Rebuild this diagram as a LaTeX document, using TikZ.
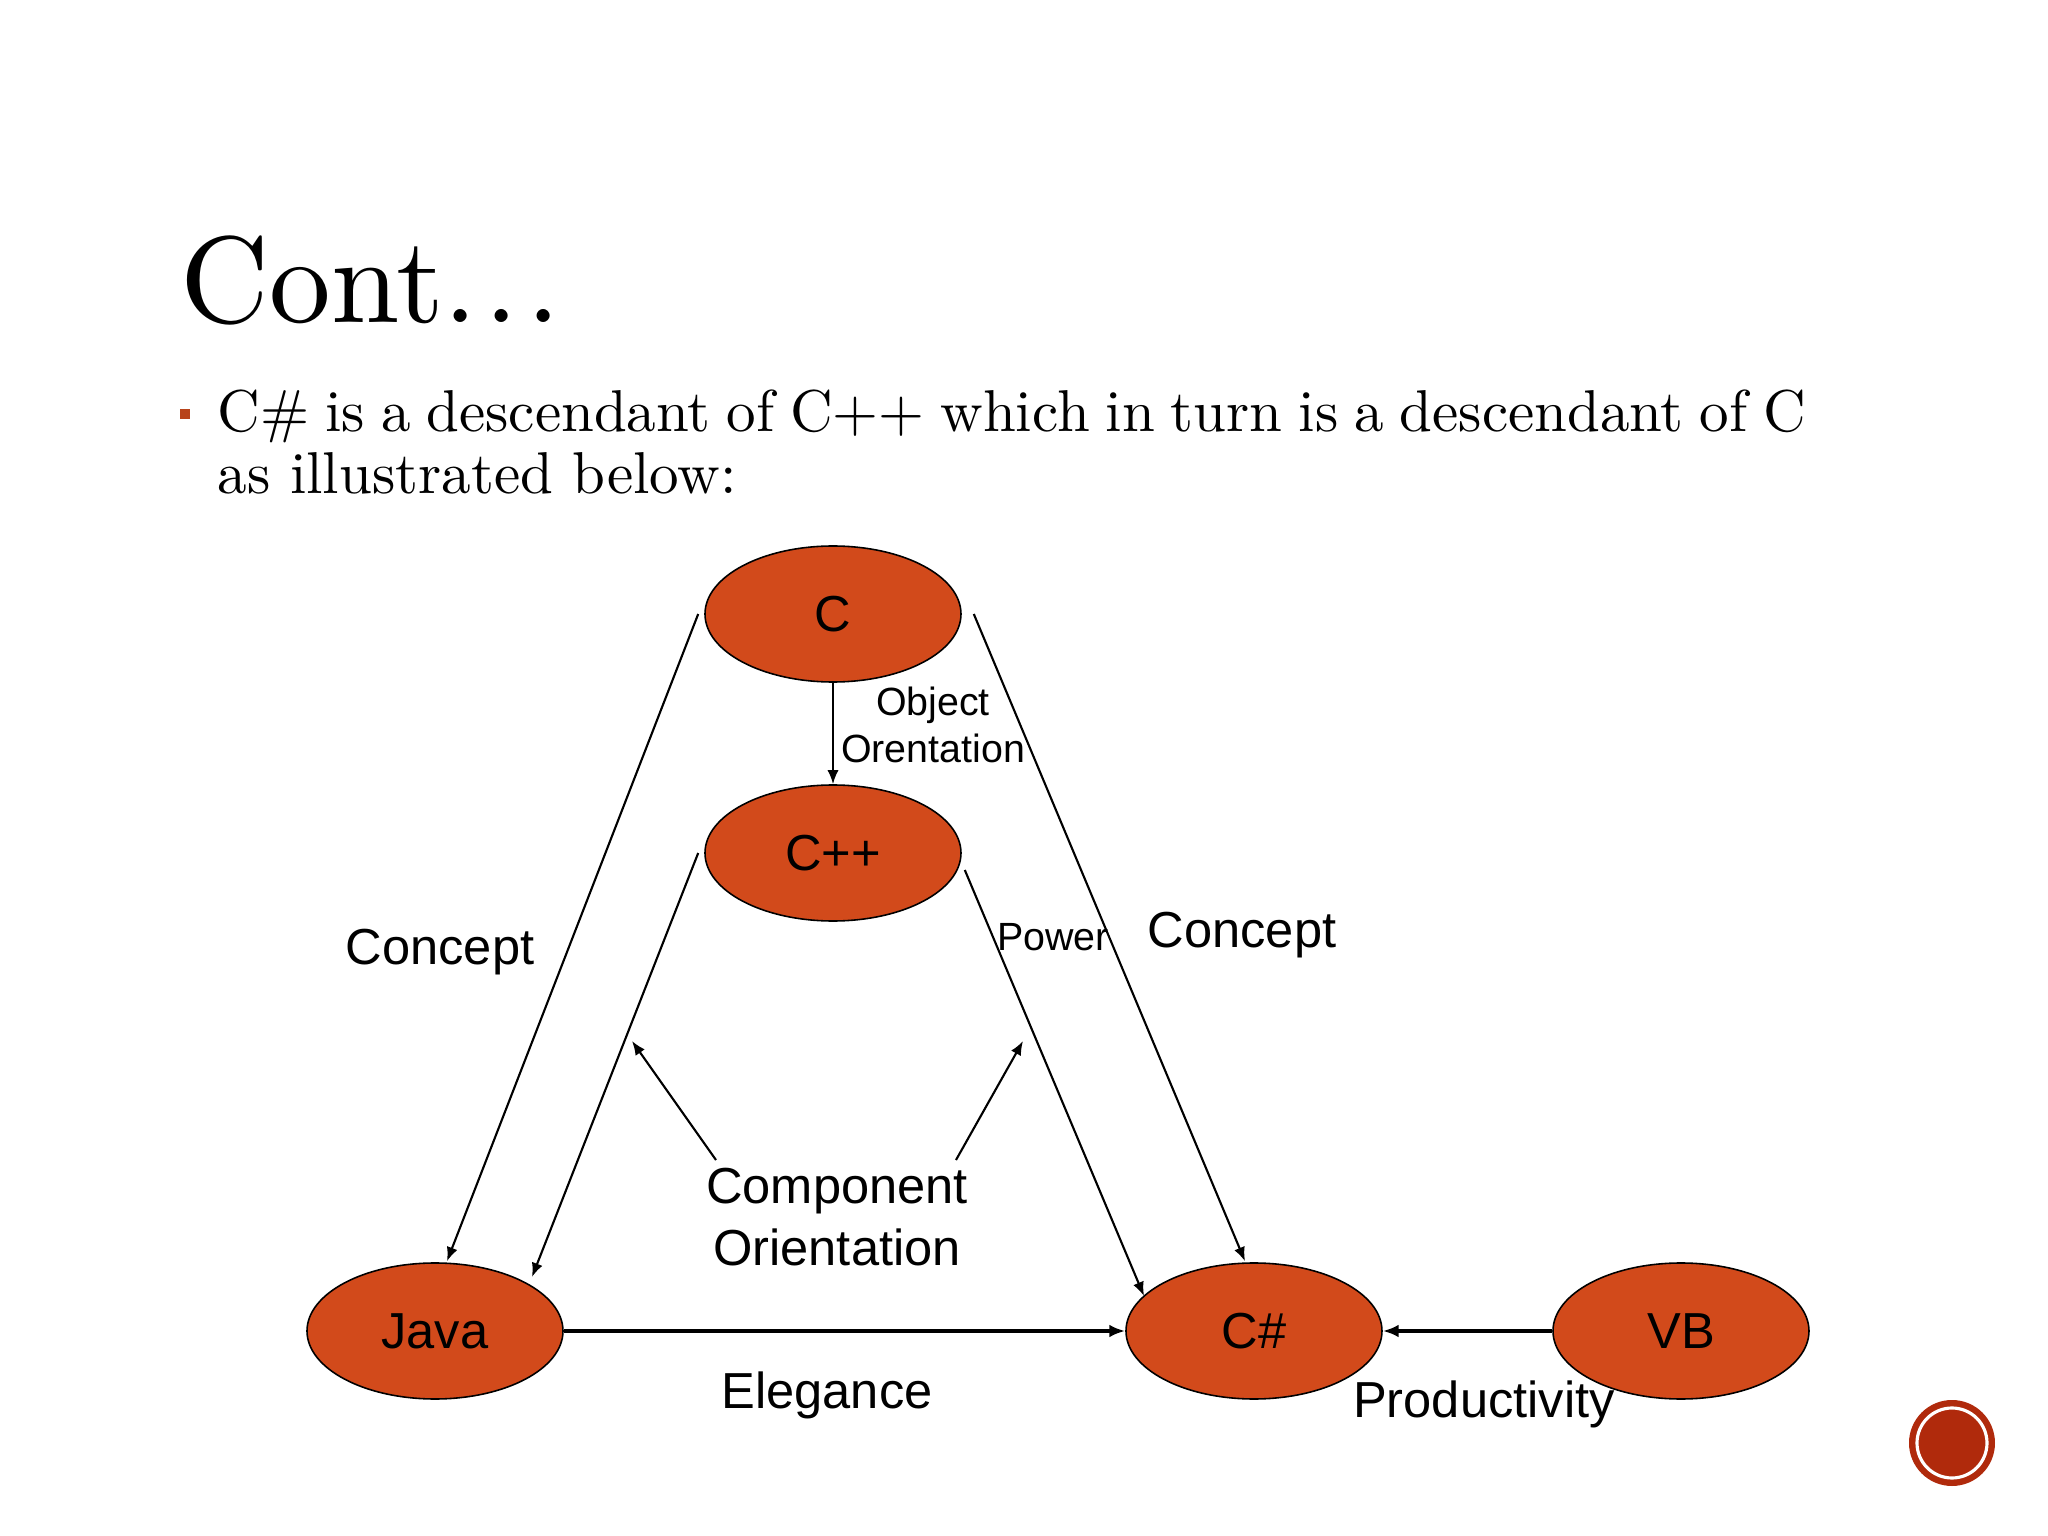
\documentclass[tikz,border=0pt]{standalone}
\usepackage{fontspec}
\newfontfamily\arial{Liberation Sans}
\newfontfamily\slidefont[Extension=.otf]{lmroman10-regular}
\usetikzlibrary{arrows.meta,calc,shapes.geometric}
\definecolor{nodefill}{HTML}{D24A1B}
\definecolor{bulletc}{HTML}{B8441B}
\definecolor{badge}{HTML}{B02A0C}
\tikzset{
  lang/.style={ellipse,draw=black,line width=0.45pt,fill=nodefill,minimum width=2.56cm,minimum height=1.36cm,inner sep=0pt,font=\arial\fontsize{14.4}{16}\selectfont},
  conn/.style={line width=0.6pt,-{Latex[length=4pt,width=3.2pt]}},
  thick conn/.style={line width=0.9pt,-{Latex[length=4.5pt,width=3.6pt]}},
  biglabel/.style={font=\arial\fontsize{14.4}{17.5}\selectfont,inner sep=0pt,align=center},
  smalllabel/.style={font=\arial\fontsize{11.2}{13.4}\selectfont,inner sep=0pt,align=center},
  bodytext/.style={anchor=base west,inner sep=0pt,font=\slidefont\fontsize{16.8}{20}\selectfont},
}
\begin{document}
\begin{tikzpicture}
\useasboundingbox[fill=white] (0,0) rectangle (20.48,-15.36);
% title and bullet
\node[anchor=base west,inner sep=0pt,font=\slidefont\fontsize{35}{42}\selectfont] (title) at (1.80,-3.23) {Cont.\kern0.07cm.\kern0.07cm.};
\fill[bulletc] (1.80,-4.09) rectangle (1.90,-4.19);
\node[bodytext] (line1) at (2.17,-4.32) {\spaceskip=0.27em C\# is a descendant of C++ which in turn is a descendant of C};
\node[bodytext] (line2) at (2.17,-4.94) {as illustrated below:};
% nodes
\node[lang] (C) at (8.33,-6.14) {C};
\node[lang] (Cpp) at (8.33,-8.53) {C++};
\node[lang] (Java) at (4.35,-13.31) {Java};
\node[lang] (Cs) at (12.54,-13.31) {C\#};
\node[lang] (VB) at (16.81,-13.31) {VB};
% connector ends
\coordinate (cL) at ($(C.west)+(-0.06,0)$);
\coordinate (cR) at ($(C.east)+(0.12,0)$);
\coordinate (cppL) at ($(Cpp.west)+(-0.06,0)$);
\coordinate (cppR) at ($(Cpp.east)+(0.03,-0.17)$);
\coordinate (javaT1) at ($(Java.north)+(0.12,0.01)$);
\coordinate (javaT2) at (5.32,-12.77);
\coordinate (csT1) at ($(Cs.north)+(-0.09,0.01)$);
\coordinate (csT2) at (11.44,-12.96);
\coordinate (coA) at (6.32,-10.41);
\coordinate (coB) at (10.23,-10.41);
% connectors
\draw[conn] (C.south) -- (Cpp.north);
\draw[conn] (cL) -- (javaT1);
\draw[conn] (cR) -- (csT1);
\draw[conn] (cppL) -- (javaT2);
\draw[conn] (cppR) -- (csT2);
\draw[thick conn] (Java.east) -- (Cs.west);
\draw[thick conn] (VB.west) -- (Cs.east);
% labels
\node[biglabel] (concL) at (4.40,-9.52) {Concept};
\node[biglabel] (concR) at (12.42,-9.35) {Concept};
\node[smalllabel] (oo) at (9.33,-7.245) {Object\\Orentation};
\node[smalllabel] (power) at (10.53,-9.37) {Power};
\node[biglabel] (comp) at (8.37,-12.17) {Component\\Orientation};
\node[biglabel] (eleg) at (8.27,-13.95) {Elegance};
\node[biglabel] (prod) at (14.84,-14.04) {Productivity};
\coordinate (compL) at (7.16,-11.60);
\coordinate (compR) at (9.56,-11.60);
\draw[conn] (compL) -- (coA);
\draw[conn] (compR) -- (coB);
% badge
\fill[badge] (19.52,-14.43) circle (0.43);
\draw[white,line width=0.9pt] (19.52,-14.43) circle (0.35);
\end{tikzpicture}
\end{document}
